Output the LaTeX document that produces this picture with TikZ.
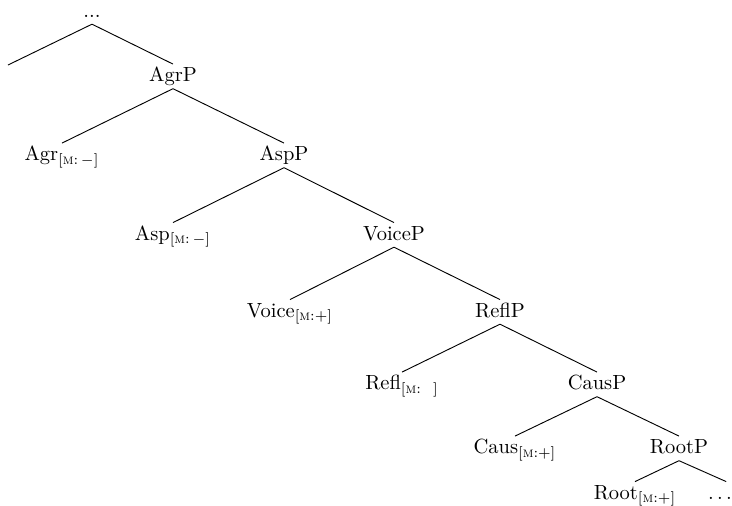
\documentclass[tikz,border=0pt]{standalone}
\usepackage{amsmath}
\begin{document}
\begin{tikzpicture}[x=0.4878pt,y=-0.4878pt,
  lab/.style={anchor=base,inner xsep=0pt,inner ysep=1.3pt,text height=7pt,text depth=2pt},
  edge/.style={line width=0.45pt}]
\useasboundingbox (0,0) rectangle (732,505);
% nodes
\node[lab] (top) at (92,17) {...};
\coordinate (L0) at (8,65);
\node[lab] (agrp) at (173,81.5) {AgrP};
\node[lab] (agr) at (62,160.5) {Agr$_{[\textsc{m}:\,-]}$};
\node[lab] (aspp) at (284,160.5) {AspP};
\node[lab] (asp) at (173,240) {Asp$_{[\textsc{m}:\,-]}$};
\node[lab] (voicep) at (394,240) {VoiceP};
\node[lab] (voice) at (290,317) {Voice$_{[\textsc{m}:+]}$};
\node[lab] (reflp) at (500,317) {ReflP};
\node[lab] (refl) at (402,389.5) {Refl$_{[\textsc{m}:\;\;\,]}$};
\node[lab] (causp) at (597,389.5) {CausP};
\node[lab] (caus) at (515,453.5) {Caus$_{[\textsc{m}:+]}$};
\node[lab] (rootp) at (679,453.5) {RootP};
\node[lab] (root) at (635,499) {Root$_{[\textsc{m}:+]}$};
\node[lab] (dots) at (720,499) {$\ldots$};
% edges
\draw[edge] (top.south) -- (L0);
\draw[edge] (top.south) -- (agrp.north);
\draw[edge] (agrp.south) -- (agr.north);
\draw[edge] (agrp.south) -- (aspp.north);
\draw[edge] (aspp.south) -- (asp.north);
\draw[edge] (aspp.south) -- (voicep.north);
\draw[edge] (voicep.south) -- (voice.north);
\draw[edge] (voicep.south) -- (reflp.north);
\draw[edge] (reflp.south) -- (refl.north);
\draw[edge] (reflp.south) -- (causp.north);
\draw[edge] (causp.south) -- (caus.north);
\draw[edge] (causp.south) -- (rootp.north);
\draw[edge] (rootp.south) -- (root.north);
\draw[edge] (rootp.south) -- ([xshift=3pt]dots.north);
\end{tikzpicture}
\end{document}
